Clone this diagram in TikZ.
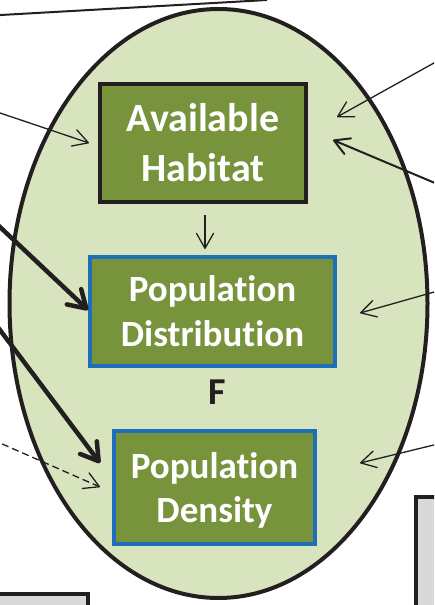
\documentclass[tikz,border=0pt]{standalone}
\usepackage{fontspec}
\setmainfont{Carlito}[Ligatures=NoCommon]
\usetikzlibrary{arrows.meta,calc}
\usepackage{tkz-euclide}
\definecolor{ZoneClr}{RGB}{215,228,189}
\definecolor{BoxClr}{RGB}{119,147,60}
\definecolor{RimClr}{RGB}{30,110,185}
\definecolor{InkClr}{RGB}{35,31,32}
\definecolor{GreyClr}{RGB}{217,217,217}

\begin{document}
\begin{tikzpicture}[x=1pt,y=1pt,
  box/.style={draw,fill=BoxClr,line width=4pt,text=white,align=center,inner sep=0pt},
  thin arrow/.style={InkClr,line width=1.3pt,-{Straight Barb[length=15pt,width=17pt,round]}},
  mid arrow/.style={InkClr,line width=2pt,-{Straight Barb[length=15pt,width=17pt,round]}},
  thick arrow/.style={InkClr,line width=4.5pt,-{Straight Barb[length=17pt,width=21pt,round]}},
  grey box/.style={InkClr,fill=GreyClr,line width=4pt}]
\useasboundingbox (0,0) rectangle (434,605);
\clip (0,0) rectangle (434,605);

\tkzDefPoints{-8/589.5/T1,267/605/T2,
  -8/494.7/A1,89/462/A2,
  442/546.5/B1,337/488/B2,
  442/419/C1,333/465/C2,
  -8/385.5/D1,88/295/D2,
  442/315.2/E1,360/292/E2,
  -8/285.6/G1,100/142/G2,
  -8/165.5/H1,100/118/H2,
  442/162/K1,360/142/K2}

% line leaving at the top
\draw[InkClr,line width=2pt] (T1) -- (T2);

% the zone
\draw[InkClr,fill=ZoneClr,line width=4pt] (218.5,301.5) ellipse [x radius=209,y radius=294.5];

% boxes
\node[box,draw=InkClr,minimum width=206pt,minimum height=118pt,
  font=\bfseries\fontsize{40}{50}\selectfont] (hab) at (203,462) {Available\\Habitat};
\node[box,draw=RimClr,minimum width=245pt,minimum height=109pt,
  font=\bfseries\fontsize{37}{45}\selectfont] (dist) at (212.5,293.5) {Population\\Distribution};
\node[box,draw=RimClr,minimum width=201pt,minimum height=113pt,text depth=0pt,
  font=\bfseries\fontsize{37}{44}\selectfont] (dens) at (214.5,117.5) {Population\\Density};
\node[InkClr,font=\bfseries\fontsize{38}{40}\selectfont] (flab) at (217,213) {F};

% boxes cut by the frame
\draw[grey box] (-10,-10) rectangle (88,11);
\draw[grey box] (416,108) rectangle (450,-10);

% arrows
\draw[thin arrow,shorten <=11pt,shorten >=6pt] ([xshift=2pt]hab.south) -- ([xshift=2pt]hab.south |- dist.north);
\draw[thin arrow] (A1) -- (A2);
\draw[thin arrow] (B1) -- (B2);
\draw[mid arrow] (C1) -- (C2);
\draw[thick arrow] (D1) -- (D2);
\draw[thin arrow] (E1) -- (E2);
\draw[thick arrow] (G1) -- (G2);
\draw[thin arrow,dash pattern=on 7pt off 4pt] (H1) -- (H2);
\draw[thin arrow] (K1) -- (K2);

\end{tikzpicture}
\end{document}
